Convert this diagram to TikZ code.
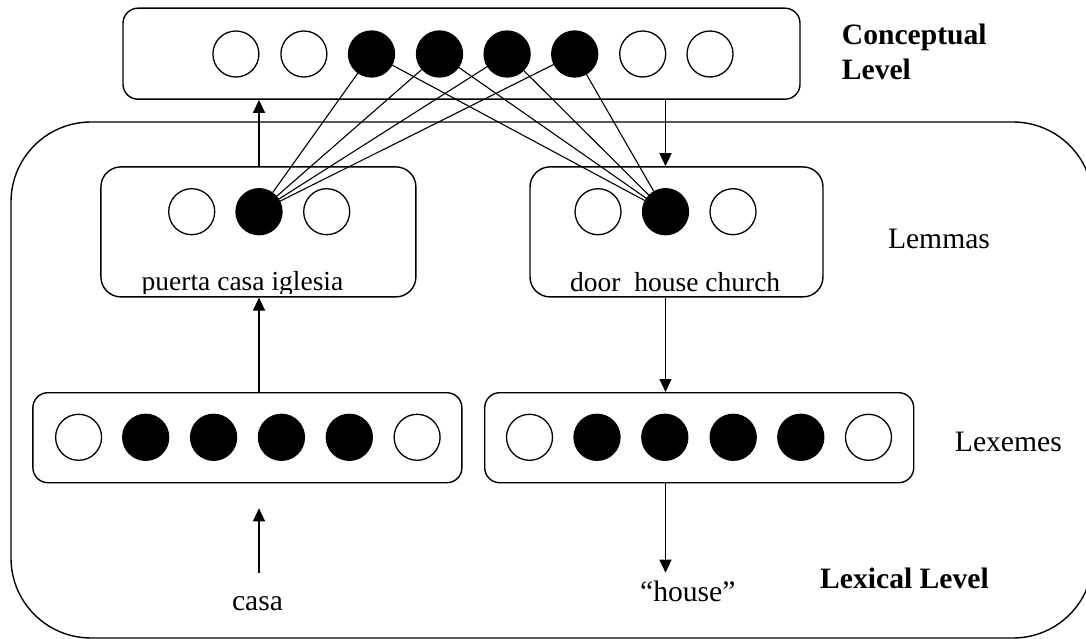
\documentclass[tikz,border=0pt]{standalone}
\usepackage{fontspec}
\setmainfont{Liberation Serif}
\usetikzlibrary{arrows.meta}
\begin{document}
\begin{tikzpicture}[x=1pt,y=-1pt,
  box/.style={draw,rectangle,line width=1.4pt,inner sep=0pt},
  unit/.style={draw,circle,line width=1.3pt,minimum size=46pt,inner sep=0pt},
  on/.style={unit,fill=black},
  link/.style={line width=1.1pt},
  arr/.style={line width=1.4pt,-{Triangle[length=13pt,width=12pt]}},
  lbl/.style={inner sep=0pt,font=\fontsize{29.6}{35}\selectfont},
  lblb/.style={inner sep=0pt,font=\fontsize{29.6}{35}\selectfont\bfseries},
  small/.style={inner sep=0pt,font=\fontsize{27.5}{33}\selectfont}]
\clip (0,0) rectangle (1086,639);
\fill[white] (0,0) rectangle (1086,639);
% outer lexical box
\node[box,rounded corners=80pt,minimum width=1082pt,minimum height=516pt] (lexical) at (552,380) {};
% conceptual level
\node[box,rounded corners=15pt,minimum width=677pt,minimum height=91pt] (concept) at (461.5,53.7) {};
\foreach \x/\s [count=\i] in {235.9/unit,303.9/unit,371.5/on,439.5/on,507.1/on,574.7/on,642.7/unit,710/unit}
  \node[\s] (c\i) at (\x,54) {};
% lemmas
\node[box,rounded corners=20pt,minimum width=315pt,minimum height=130pt] (lemL) at (258.4,231.9) {};
\node[box,rounded corners=20pt,minimum width=293pt,minimum height=130pt] (lemR) at (676.5,231.9) {};
\foreach \x/\s [count=\i] in {191.7/unit,259/on,326.7/unit}
  \node[\s] (lL\i) at (\x,211.7) {};
\foreach \x/\s [count=\i] in {598/unit,665.5/on,733/unit}
  \node[\s] (lR\i) at (\x,211.7) {};
\begin{scope}
  \clip (100,150) rectangle (420,293.5);
  \node[small,anchor=base] (puerta) at (242.5,290) {puerta casa iglesia};
\end{scope}
\node[small,anchor=base] (door) at (675.2,291.7) {door\ \ house church};
% lexemes
\node[box,rounded corners=15pt,minimum width=429pt,minimum height=90pt] (lxL) at (247.4,437.7) {};
\node[box,rounded corners=15pt,minimum width=429pt,minimum height=90pt] (lxR) at (699.2,437.7) {};
\foreach \x/\s [count=\i] in {78.6/unit,145.7/on,213.6/on,281.4/on,349.3/on,417.1/unit}
  \node[\s] (xL\i) at (\x,437.3) {};
\foreach \x/\s [count=\i] in {529.5/unit,597/on,664.8/on,733.2/on,800.8/on,868.5/unit}
  \node[\s] (xR\i) at (\x,437.3) {};
% links
\foreach \i in {3,...,6} {
  \draw[link] (c\i) -- (lL2);
  \draw[link] (c\i) -- (lR2);
}
% arrows
\draw[arr] (lL2 |- lemL.north) -- (lL2 |- concept.south);
\draw[arr] (lR2 |- concept.south) -- (lR2 |- lemR.north);
\draw[arr] (lL2 |- lxL.north) -- (lL2 |- lemL.south);
\draw[arr] (lR2 |- lemR.south) -- (lR2 |- lxR.north);
% labels
\node[lblb,anchor=base west,align=left] (conclbl) at (841.7,80) {Conceptual\\Level};
\node[lbl,anchor=base west] (lemlbl) at (887.8,248) {Lemmas};
\node[lbl,anchor=base west] (lexlbl) at (954.7,451.7) {Lexemes};
\node[lblb,anchor=base west] (lexlvl) at (820,588.3) {Lexical Level};
\node[lbl,anchor=base] (casa) at (257.5,610) {casa};
\node[lbl,anchor=base] (house) at (687.8,601.7) {``house''};
\coordinate (casaTail) at (259,573.3);
\coordinate (casaTip) at (259,508.3);
\coordinate (houseTip) at (665.5,572.7);
\draw[arr] (casaTail) -- (casaTip);
\draw[arr] (lR2 |- lxR.south) -- (houseTip);
\end{tikzpicture}
\end{document}
